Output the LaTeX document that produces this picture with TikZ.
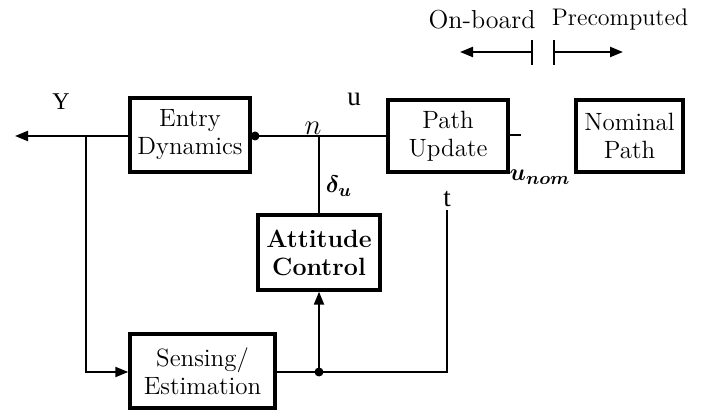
\documentclass[tikz,border=0pt]{standalone}
\usepackage{amsmath}
\usepackage{fontspec}
\newfontfamily\tms{Liberation Serif}
\usetikzlibrary{arrows.meta}
\begin{document}
\begin{tikzpicture}[x=0.5pt,y=-0.5pt,
  blk/.style={draw,line width=1.7pt,align=center,inner sep=0pt,
    font=\fontsize{12.5}{14}\selectfont},
  wire/.style={line width=1.1pt},
  arr/.style={wire,-{Triangle[length=6.5pt,width=5pt]}},
  lbl/.style={inner sep=0pt,font=\tms\fontsize{13.5}{15}\selectfont},
  mlbl/.style={inner sep=0pt,font=\fontsize{12.5}{14}\selectfont},
  dotc/.style={circle,fill,inner sep=0pt,minimum size=4.5pt}]
\useasboundingbox (0,0) rectangle (711,410);
% blocks
\node[blk,minimum width=60pt,minimum height=37pt] (entry) at (190,135) {Entry\\Dynamics};
\node[blk,minimum width=60pt,minimum height=36pt] (path) at (448,136) {Path\\Update};
\node[blk,minimum width=53.5pt,minimum height=36pt] (nom) at (629.5,136) {Nominal\\Path};
\node[blk,minimum width=61pt,minimum height=37.5pt,font=\fontsize{12.5}{14}\selectfont\bfseries] (att) at (319,252.5) {Attitude\\Control};
\node[blk,minimum width=72.5pt,minimum height=37pt] (sens) at (202.5,371) {Sensing/\\Estimation};
% junction points
\coordinate (yout) at (15,136);
\coordinate (ytap) at (86,136);
\coordinate (ntap) at (319,136);
\coordinate (scorner) at (86,372);
\coordinate (sdot) at (319,372);
\coordinate (tcorner) at (447,372);
\coordinate (tend) at (447,210);
\node[dotc] (edot) at (255,136) {};
\node[dotc] (sdotn) at (319,372) {};
% connectors
\draw[arr] (entry.west |- yout) -- (yout);
\draw[wire] (entry.east |- ntap) -- (path.west |- ntap);
\draw[wire] (ntap) -- (att.north);
\draw[arr] (ytap) -- (scorner) -- (sens.west |- scorner);
\draw[wire] (sens.east |- sdot) -- (tcorner) -- (tend);
\draw[arr] (sdot) -- (att.south);
\coordinate (pstub) at (521,135);
\draw[wire] (path.east |- pstub) -- (pstub);
% labels
\node[lbl,font=\tms\fontsize{12}{14}\selectfont] (ylab) at (61,102) {Y};
\node[lbl] (ulab) at (354,99) {u};
\node[lbl] (tlab) at (447,199) {t};
\node[mlbl,font=\fontsize{14}{16}\selectfont] (nlab) at (313,128) {$n$};
\node[mlbl] (dlab) at (339,186) {$\boldsymbol{\delta_u}$};
\node[mlbl] (unom) at (540,177) {$\boldsymbol{u_{nom}}$};
% on-board / precomputed split
\node[mlbl,font=\fontsize{13}{15}\selectfont] (onb) at (482,20) {On-board};
\node[mlbl,font=\fontsize{12}{15}\selectfont] (prec) at (620,20) {Precomputed};
\coordinate (lt1) at (532,40);
\coordinate (lt2) at (532,65);
\coordinate (rt1) at (554,40);
\coordinate (rt2) at (554,65);
\coordinate (ltip) at (460,52);
\coordinate (rtip) at (623,52);
\draw[wire] (lt1) -- (lt2);
\draw[wire] (rt1) -- (rt2);
\draw[arr] (lt1 |- ltip) -- (ltip);
\draw[arr] (rt1 |- rtip) -- (rtip);
\end{tikzpicture}
\end{document}
